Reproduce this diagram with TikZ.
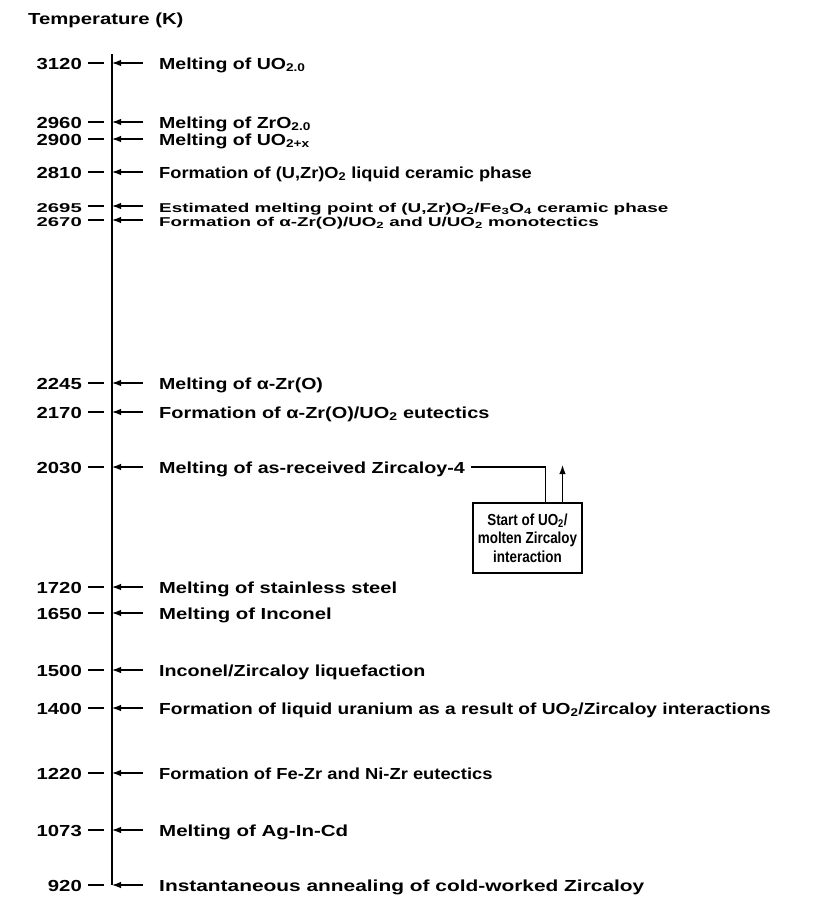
\documentclass[tikz,border=0pt]{standalone}
\usepackage{fontspec}
\setmainfont{Liberation Sans}[FakeStretch=1.22]
\newfontfamily\boxfont{Liberation Sans}[FakeStretch=0.84]
\usetikzlibrary{arrows.meta,positioning}
\newcommand{\sub}[1]{\textsubscript{#1}}

\begin{document}
\begin{tikzpicture}[
  x=1pt, y=-1pt,
  font=\fontsize{16}{19}\selectfont\bfseries,
  temp/.style={anchor=east, inner sep=0pt, text height=12pt, text depth=0pt},
  evt/.style={anchor=west, inner sep=0pt, text height=12pt, text depth=0pt},
  arr/.style={-{Latex[length=9pt,width=6.5pt]}, line width=1.2pt},
  box/.style={draw, line width=1.4pt, minimum width=109pt, minimum height=70pt,
              inner sep=2pt, align=center,
              font=\boxfont\fontsize{16}{18.5}\selectfont\bfseries}
]
\useasboundingbox (0,0) rectangle (813,902);

\node[evt] (title) at (28,18) {\scalebox{1.04}[1]{Temperature (K)}};

% temperature scale and events
\foreach \y/\t/\sx/\sy/\txt in {
  63/3120/1/1/{Melting of UO\sub{2.0}},
  122/2960/1/1/{Melting of ZrO\sub{2.0}},
  139/2900/1/1/{Melting of UO\sub{2+x}},
  172/2810/0.935/1/{Formation of (U,Zr)O\sub{2} liquid ceramic phase},
  206/2695/0.967/0.8/{Estimated melting point of (U,Zr)O\sub{2}/Fe\sub{3}O\sub{4} ceramic phase},
  220/2670/0.963/0.8/{Formation of α-Zr(O)/UO\sub{2} and U/UO\sub{2} monotectics},
  383/2245/1/1/{Melting of α-Zr(O)},
  412/2170/1.02/1/{Formation of α-Zr(O)/UO\sub{2} eutectics},
  467/2030/1.01/1/{Melting of as-received Zircaloy-4},
  587/1720/1.03/1/{Melting of stainless steel},
  613/1650/1.04/1/{Melting of Inconel},
  670/1500/1.01/1/{Inconel/Zircaloy liquefaction},
  708/1400/0.98/1/{Formation of liquid uranium as a result of UO\sub{2}/Zircaloy interactions},
  773/1220/0.94/1/{Formation of Fe-Zr and Ni-Zr eutectics},
  830/1073/1.05/1/{Melting of Ag-In-Cd},
  885/920/1.07/1/{Instantaneous annealing of cold-worked Zircaloy}}
{
  \coordinate (a\t) at (112,\y);
  \node[temp] (t\t) at (82,\y) {\scalebox{1.04}[\sy]{\t}};
  \draw[line width=1.2pt] ([xshift=6]t\t.east) -- ++(16,0);
  \node[evt] (e\t) at (159,\y) {\scalebox{\sx}[\sy]{\txt}};
  \draw[arr] ([xshift=-16]e\t.west) -- (a\t);
}

\coordinate (top) at (112,54);
\draw[line width=1.4pt] (top) -- (a920);

% interaction box
\node[box] (intr) at (527.5,538) {Start of UO\sub{2}/\\molten Zircaloy\\interaction};
\coordinate (up) at ([xshift=35]intr.north |- 0,465);
\draw[line width=1.2pt] ([xshift=6]e2030.east) -| ([xshift=18]intr.north);
\draw[arr] ([xshift=35]intr.north) -- (up);
\end{tikzpicture}
\end{document}
